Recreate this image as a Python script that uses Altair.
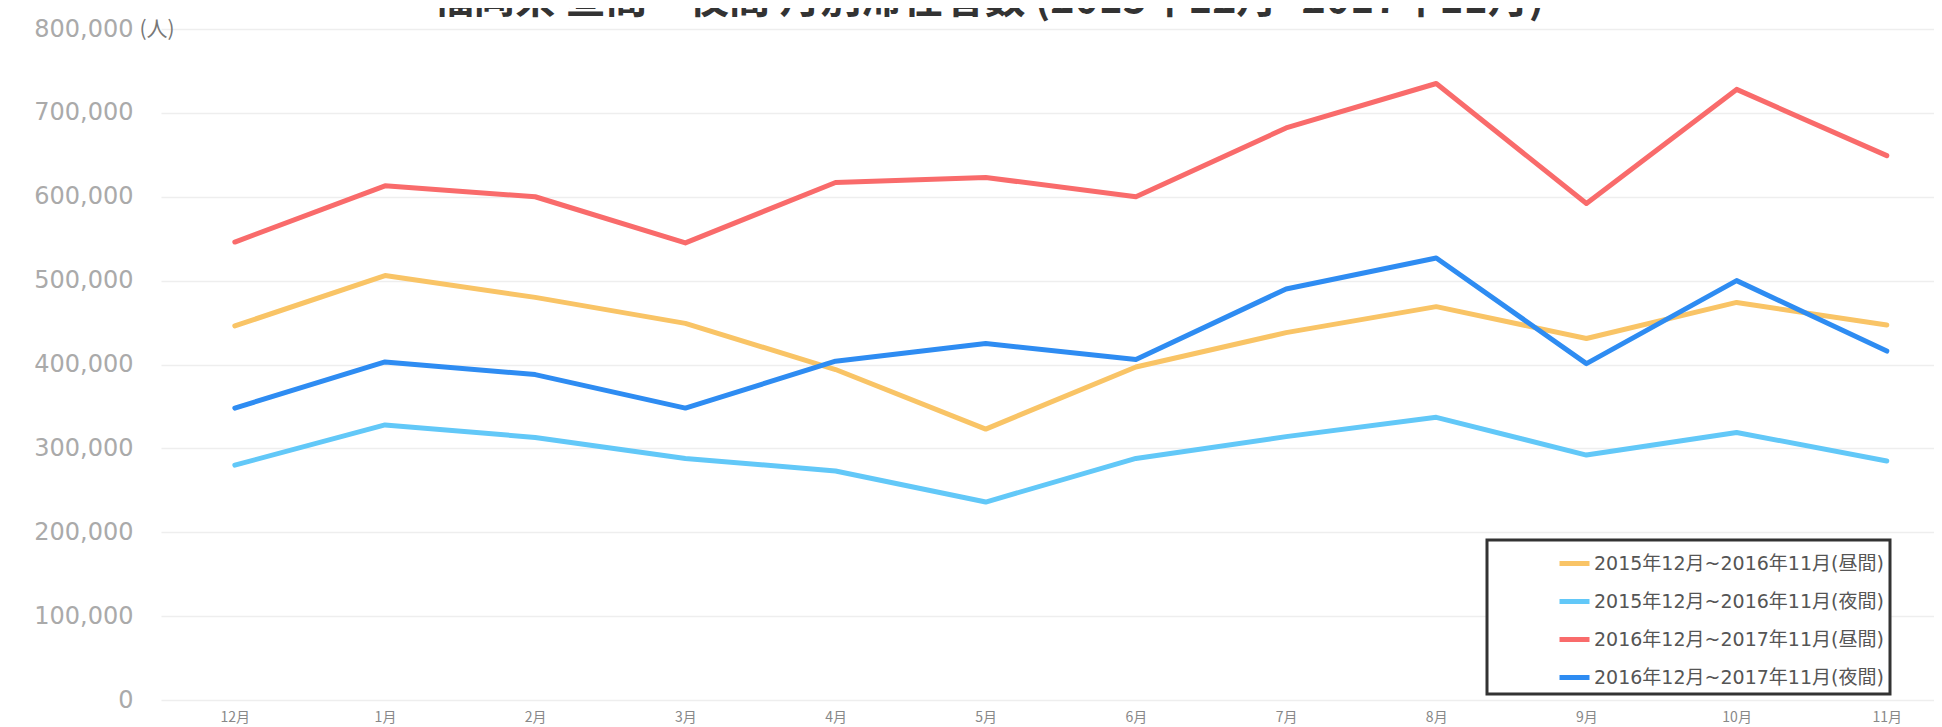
import altair as alt
import pandas as pd

months = ["12月", "1月", "2月", "3月", "4月", "5月", "6月", "7月", "8月", "9月", "10月", "11月"]
series_names = [
    "2015年12月~2016年11月(昼間)",
    "2015年12月~2016年11月(夜間)",
    "2016年12月~2017年11月(昼間)",
    "2016年12月~2017年11月(夜間)",
]
day_2016 = [446000, 506000, 480000, 449000, 394000, 323000, 397000, 438000, 469000, 431000, 474000, 447000]
night_2016 = [280000, 328000, 313000, 288000, 273000, 236000, 288000, 314000, 337000, 292000, 319000, 285000]
day_2017 = [546000, 613000, 600000, 545000, 617000, 623000, 600000, 682000, 735000, 592000, 728000, 649000]
night_2017 = [348000, 403000, 388000, 348000, 404000, 425000, 406000, 490000, 527000, 401000, 500000, 416000]
colors = ["#F9C466", "#62C8F8", "#F96B6B", "#2E8CF2"]
y_ticks = [0, 100000, 200000, 300000, 400000, 500000, 600000, 700000, 800000]

rows = []
for name, vals in zip(series_names, [day_2016, night_2016, day_2017, night_2017]):
    for m, v in zip(months, vals):
        rows.append({"month": m, "value": v, "series": name})
df = pd.DataFrame(rows)

chart = alt.Chart(df).mark_line(strokeWidth=5, strokeCap="round", strokeJoin="round").encode(
    x=alt.X("month:N", sort=months,
            scale=alt.Scale(padding=0.403, align=0.61),
            axis=alt.Axis(title=None, labelAngle=0, labelFontSize=14, labelColor="#888888",
                          labelFont="Noto Sans CJK JP", domain=False, ticks=False,
                          labelPadding=10, grid=False)),
    y=alt.Y("value:Q", scale=alt.Scale(domain=[0, 800000], nice=False),
            axis=alt.Axis(title="(人)", titleAngle=0, titleAlign="left", titleBaseline="middle",
                          titleX=-22, titleY=0, titleFontSize=21, titleFontWeight="normal",
                          titleColor="#777777", titleFont="Noto Sans CJK JP",
                          values=y_ticks, format=",d", labelFontSize=24, labelColor="#aaaaaa",
                          labelFont="DejaVu Sans", domain=False, ticks=False, labelPadding=28,
                          gridColor="#eeeeee", gridWidth=1.5)),
    color=alt.Color("series:N", sort=series_names,
                    scale=alt.Scale(domain=series_names, range=colors),
                    legend=alt.Legend(title=None, orient="none", legendX=1326, legendY=511,
                                      symbolType="stroke", symbolStrokeWidth=5, symbolSize=900,
                                      symbolOffset=64, labelOffset=2, labelFontSize=19,
                                      labelColor="#555555", labelFont="DejaVu Sans, Noto Sans CJK JP",
                                      rowPadding=10, padding=6, strokeColor="#333333",
                                      fillColor="#ffffff", labelLimit=400)),
).properties(
    width=1773,
    height=671,
    title=alt.TitleParams("福岡県 昼間・夜間 月別滞在者数 (2015年12月~2017年11月)",
                          fontSize=41, font="Noto Sans CJK JP", fontWeight="bold",
                          color="#333333", anchor="middle", offset=-5, dx=-59),
    autosize=alt.AutoSizeParams(type="none"),
    padding={"left": 153, "top": 21, "right": 0, "bottom": 24},
).configure_view(stroke=None).configure_legend(strokeWidth=3)

chart.save("out.html", embed_options={"renderer": "svg", "actions": False})
